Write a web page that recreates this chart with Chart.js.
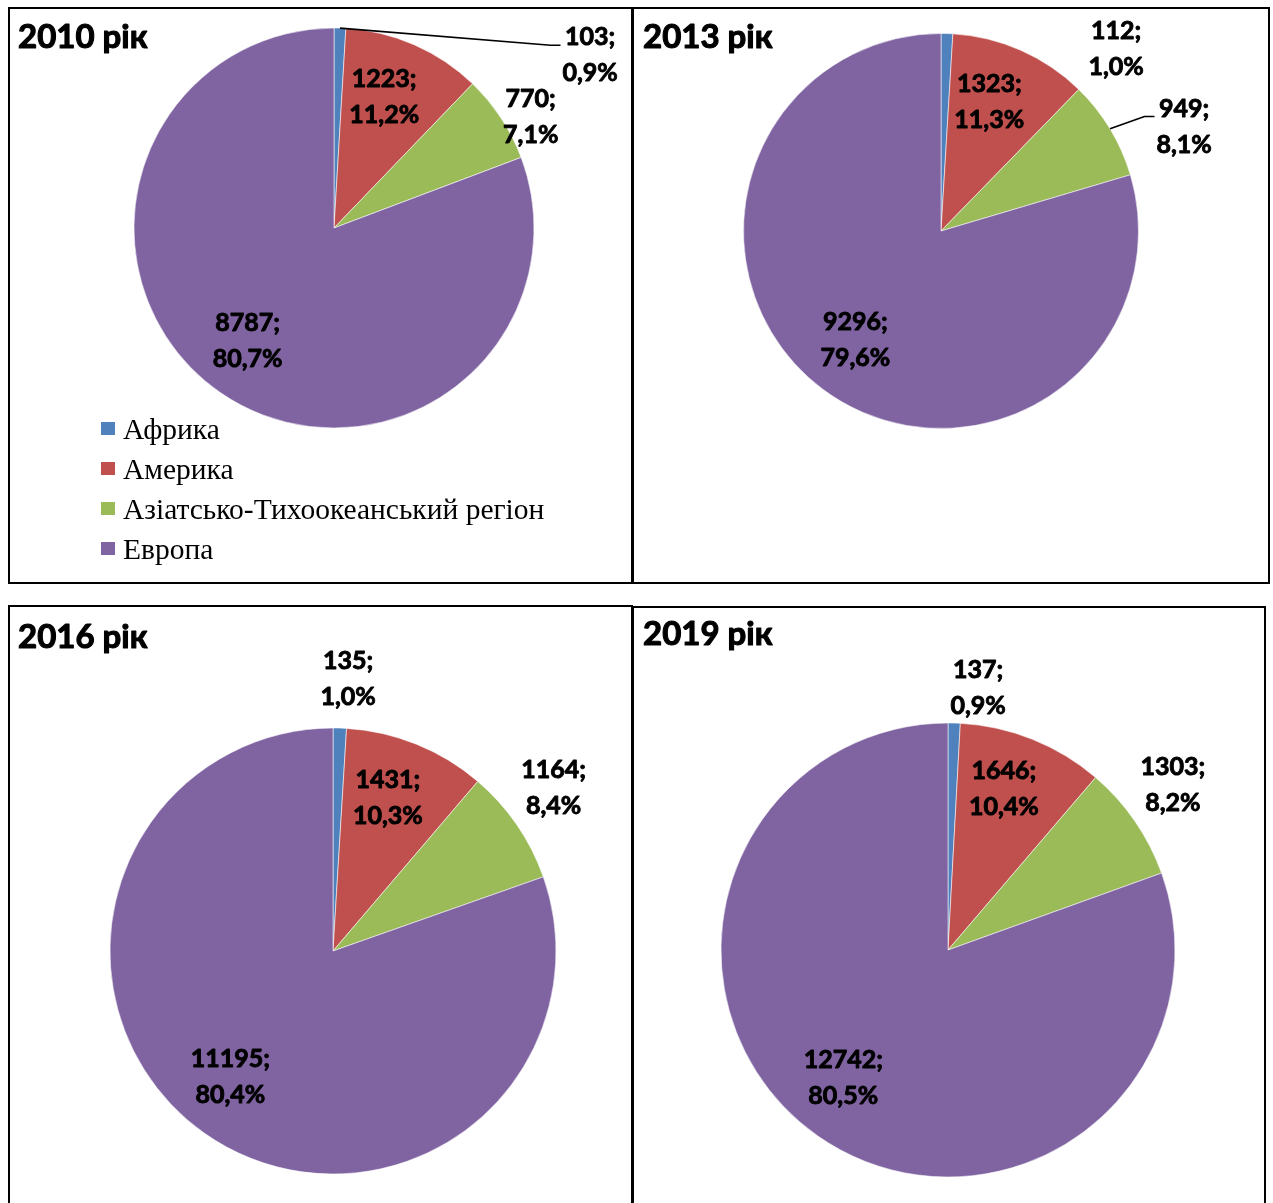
<!DOCTYPE html>
<html lang="uk">
<head>
<meta charset="utf-8">
<title>Розподіл за регіонами</title>
<script src="https://cdn.jsdelivr.net/npm/chart.js@4.4.1/dist/chart.umd.min.js"></script>
<style>
  html, body { margin: 0; padding: 0; background: #fff; }
  body { width: 1273px; height: 1203px; position: relative; overflow: hidden; }
  .panel { position: absolute; border: 2px solid #000; box-sizing: border-box; background: #fff; }
  .panel canvas { position: absolute; left: 0; top: 0; }
</style>
</head>
<body>
<div class="panel" id="p2010" style="left:8px;top:7px;width:625px;height:577px;"><canvas id="c2010" width="621" height="573"></canvas></div>
<div class="panel" id="p2013" style="left:632px;top:7px;width:638px;height:577px;"><canvas id="c2013" width="634" height="573"></canvas></div>
<div class="panel" id="p2016" style="left:8px;top:605px;width:625px;height:700px;"><canvas id="c2016" width="621" height="596"></canvas></div>
<div class="panel" id="p2019" style="left:632px;top:606px;width:634px;height:700px;"><canvas id="c2019" width="630" height="595"></canvas></div>

<script>
// Regions and yearly values
const categories = ['Африка', 'Америка', 'Азіатсько-Тихоокеанський регіон', 'Европа'];
const years = ['2010 рік', '2013 рік', '2016 рік', '2019 рік'];
const values2010 = [103, 1223, 770, 8787];
const values2013 = [112, 1323, 949, 9296];
const values2016 = [135, 1431, 1164, 11195];
const values2019 = [137, 1646, 1303, 12742];

const colors = ['#4F81BD', '#C0504D', '#9BBB59', '#8064A2'];

// Heavy text: fill plus a thin outline of the same colour
function heavyText(ctx, s, x, y, w) {
  ctx.lineWidth = w;
  ctx.lineJoin = 'round';
  ctx.strokeText(s, x, y);
  ctx.fillText(s, x, y);
}

// Value + share labels, placed relative to each slice's mid angle
const sliceLabels = {
  id: 'sliceLabels',
  afterDatasetsDraw(chart, args, opts) {
    const ctx = chart.ctx;
    const meta = chart.getDatasetMeta(0);
    const data = chart.data.datasets[0].data;
    const total = data.reduce((a, b) => a + b, 0);
    ctx.save();
    ctx.font = 'bold 25px Lato';
    ctx.fillStyle = '#000';
    ctx.strokeStyle = '#000';
    ctx.textAlign = 'center';
    ctx.textBaseline = 'middle';
    meta.data.forEach((arc, i) => {
      const p = arc.getProps(['x', 'y', 'startAngle', 'endAngle', 'outerRadius'], true);
      const place = opts.place[i];
      const mid = (p.startAngle + p.endAngle) / 2;
      const a = mid + place.da * Math.PI / 180;
      const d = p.outerRadius * place.k;
      const lx = p.x + Math.cos(a) * d;
      const ly = p.y + Math.sin(a) * d;
      const line1 = data[i] + ';';
      const line2 = (data[i] / total * 100).toFixed(1).replace('.', ',') + '%';
      heavyText(ctx, line1, lx, ly - 18, 0.9);
      heavyText(ctx, line2, lx, ly + 18, 0.9);
      if (place.leader) {
        const w = Math.max(ctx.measureText(line1).width, ctx.measureText(line2).width);
        const left = lx - w / 2;
        const sx = p.x + Math.cos(mid) * p.outerRadius;
        const sy = p.y + Math.sin(mid) * p.outerRadius;
        const ey = ly - 18 + 8;
        ctx.beginPath();
        ctx.lineWidth = 1.6;
        ctx.moveTo(sx, sy);
        ctx.lineTo(left - 12, ey);
        ctx.lineTo(left - 2, ey);
        ctx.stroke();
      }
    });
    ctx.restore();
  }
};

// Panel heading and (optionally) the region key
const panelText = {
  id: 'panelText',
  afterDraw(chart, args, opts) {
    const ctx = chart.ctx;
    ctx.save();
    ctx.fillStyle = '#000';
    ctx.strokeStyle = '#000';
    ctx.textAlign = 'left';
    ctx.textBaseline = 'alphabetic';
    ctx.font = 'bold 33px Lato';
    heavyText(ctx, opts.title, opts.titleX, opts.titleY, 1.1);
    if (opts.key) {
      const k = opts.key;
      const bg = chart.data.datasets[0].backgroundColor;
      ctx.font = '29.5px "Liberation Serif"';
      chart.data.labels.forEach((lab, i) => {
        const y = k.y + i * k.step;
        ctx.fillStyle = bg[i];
        ctx.fillRect(k.x, y - 6.5, 14, 13);
        ctx.fillStyle = '#000';
        ctx.fillText(lab, k.x + 22, y + 10.5);
      });
    }
    ctx.restore();
  }
};

function makePie(id, values, geom, place, text) {
  const cvs = document.getElementById(id);
  const W = cvs.width, H = cvs.height;
  const half = geom.r + 2;
  return new Chart(cvs, {
    type: 'pie',
    data: {
      labels: categories,
      datasets: [{
        data: values,
        backgroundColor: colors,
        borderColor: 'rgba(255,255,255,0.55)',
        borderWidth: 1
      }]
    },
    options: {
      responsive: false,
      animation: false,
      devicePixelRatio: 1,
      radius: geom.r,
      layout: {
        padding: {
          left: geom.cx - half,
          right: W - geom.cx - half,
          top: geom.cy - half,
          bottom: H - geom.cy - half
        }
      },
      plugins: {
        legend: { display: false },
        tooltip: { enabled: false },
        sliceLabels: { place },
        panelText: text
      }
    },
    plugins: [sliceLabels, panelText]
  });
}

function drawAll() {
  makePie('c2010', values2010, { cx: 324, cy: 219, r: 200 },
    [{ k: 1.545, da: 54.3, leader: true }, { k: 0.70, da: -2.6 }, { k: 1.13, da: 3.9 }, { k: 0.71, da: 2.8 }],
    { title: years[0], titleX: 8, titleY: 39, key: { x: 91, y: 419.5, step: 40 } });
  makePie('c2013', values2013, { cx: 307, cy: 222, r: 197.5 },
    [{ k: 1.28, da: 42.1 }, { k: 0.70, da: -3.4 }, { k: 1.34, da: 7.9, leader: true }, { k: 0.70, da: 1.5 }],
    { title: years[1], titleX: 9, titleY: 39 });
  makePie('c2016', values2016, { cx: 323, cy: 344, r: 223 },
    [{ k: 1.22, da: 1.45 }, { k: 0.73, da: -2.3 }, { k: 1.23, da: -2 }, { k: 0.73, da: 3.8 }],
    { title: years[2], titleX: 8, titleY: 41 });
  makePie('c2019', values2019, { cx: 314, cy: 342, r: 227 },
    [{ k: 1.16, da: 5 }, { k: 0.75, da: -2.7 }, { k: 1.23, da: -1.7 }, { k: 0.73, da: 4.1 }],
    { title: years[3], titleX: 9, titleY: 37 });
}

Promise.all([
  document.fonts.load('bold 25px Lato'),
  document.fonts.load('bold 33px Lato'),
  document.fonts.load('29.5px "Liberation Serif"')
]).then(drawAll, drawAll);
</script>
</body>
</html>
